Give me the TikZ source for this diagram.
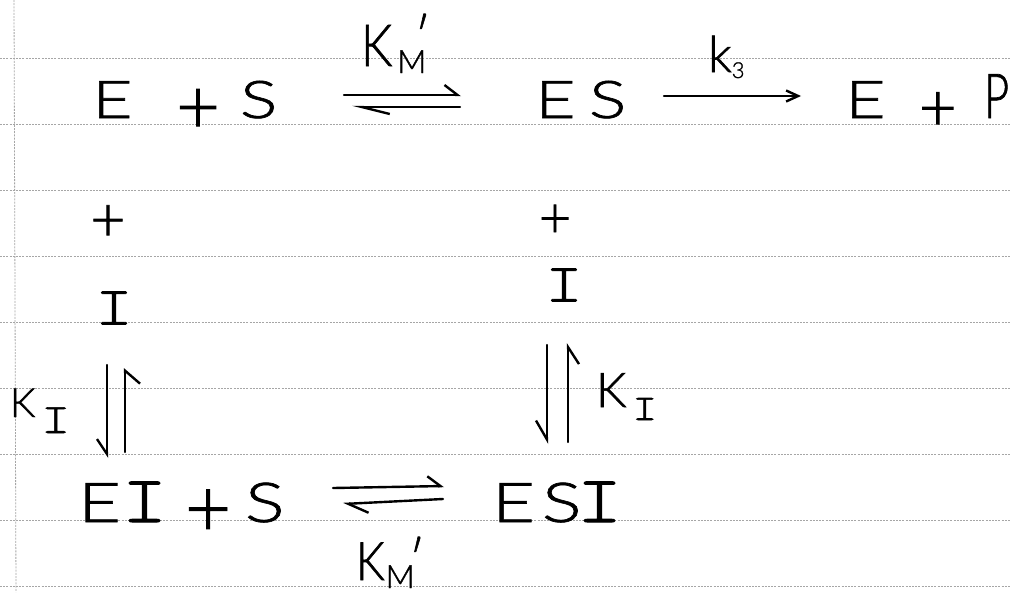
\documentclass[tikz,border=0pt]{standalone}
\usepackage{fontspec}
\usepackage{graphicx}
\usetikzlibrary{arrows.meta,calc}
\IfFontExistsTF{Lato Light}{%
  \setmainfont{Lato Light}[FakeStretch=1.35,FakeBold=1.2]%
  \newfontfamily\lfont{Lato Light}[FakeBold=1.2]%
}{%
  \setmainfont{Liberation Sans}[FakeStretch=1.15]%
  \newfontfamily\lfont{Liberation Sans}%
}
\newfontfamily\ifont{lmmonolt10-regular.otf}[FakeStretch=1.3,FakeBold=1.5]
\newcommand\bigI[1]{{\fontsize{#1}{#1}\ifont I}}
\newcommand\plusg[2]{\raisebox{#2}{\fontsize{#1}{#1}\lfont +}}
% K sub M prime: K size, kern, M raise, prime raise, prime kern
\newcommand\kmlabel[5]{\scalebox{0.85}[1]{\fontsize{#1}{#1}\lfont K}\kern#2\raisebox{#3}{\fontsize{32}{32}\lfont M}\llap{\raisebox{#4}{\fontsize{50}{50}\lfont ′}\kern#5}}
\begin{document}
\begin{tikzpicture}[x=1pt,y=-1pt,
  every node/.style={inner sep=0pt, outer sep=0pt},
  big/.style={font=\fontsize{52}{54}\selectfont, anchor=base west},
  bigb/.style={font=\fontsize{55}{57}\selectfont, anchor=base west},
  lab/.style={anchor=base west},
  rule/.style={draw=black!35, line width=0.8pt, dash pattern=on 2pt off 1.2pt},
  ink/.style={line width=2.4pt, line cap=round, line join=round},
  hr/.style 2 args={ink, -{Straight Barb[harpoon, length=#1, width=#2]}},
  hrs/.style 2 args={ink, -{Straight Barb[harpoon, swap, length=#1, width=#2]}},
  arr/.style={ink, -{Straight Barb[length=12pt, width=11pt]}}]
\useasboundingbox (0,0) rectangle (1011,592);
\fill[white] (0,0) rectangle (1011,592);
\foreach \y in {58,124,190,256,322,388,454,520,586} \draw[rule] (0,\y) -- (1011,\y);
\draw[rule] (14,0) -- (16,592);
% top row
\node[big] (ES1) at (92,118) {\makebox[84pt][l]{E}\makebox[64pt][l]{\plusg{76}{-15pt}}S};
\node[big] (ES) at (535,118) {\makebox[54pt][l]{E}S};
\node[big] (EP) at (845,118) {\makebox[74pt][l]{E}\makebox[65pt][l]{\plusg{65}{-12pt}}\scalebox{0.7}[1]{\fontsize{62}{62}\lfont P}};
\node[lab] (kmt) at (361,66) {\kmlabel{58}{5pt}{-7pt}{12pt}{-4pt}};
\node[lab] (k3) at (708,72) {{\fontsize{50}{50}\lfont k}\raisebox{-6pt}{\fontsize{22}{22}\lfont 3}};
\draw[hr={13pt}{20pt}] ($(ES1.base west)+(252,-23)$) -- ($(ES.base west)+(-74,-23)$);
\draw[hr={28pt}{14pt}] ($(ES.base west)+(-75,-11)$) -- ($(ES1.base west)+(260,-11)$);
\draw[arr] ($(ES.base west)+(129,-22)$) -- ($(EP.base west)+(-44,-22)$);
% middle
\node[font=\fontsize{61}{61}\lfont] (pl1) at (108,223) {+};
\node[font=\fontsize{56}{56}\lfont] (pl2) at (555,221) {+};
\node[font=\fontsize{54}{54}\ifont] (Il) at (114,308) {I};
\node[font=\fontsize{54}{54}\ifont] (Ir) at (564,285) {I};
% bottom row
\node[bigb] (EIS) at (78,522) {\makebox[44pt][l]{E}\makebox[63pt][l]{\bigI{66}}\makebox[60pt][l]{\plusg{80}{-14pt}}S};
\node[bigb] (ESI) at (492,522) {\makebox[50pt][l]{E}\makebox[35pt][l]{S}\bigI{66}};
\node[lab] (kmb) at (356,580) {\kmlabel{53}{1pt}{-8pt}{3pt}{-10pt}};
\node[lab] (kil) at (10,417) {{\fontsize{40}{40}\lfont K}\kern6pt\raisebox{-16pt}{\fontsize{42}{42}\ifont I}};
\node[lab] (kir) at (596,407) {{\fontsize{48}{48}\lfont K}\kern6pt\raisebox{-13pt}{\fontsize{36}{36}\ifont I}};
\draw[hrs={15pt}{20pt}] ($(Il.center)+(-7,57)$) -- ($(EIS.base west)+(29,-64)$);
\draw[hrs={13pt}{30pt}] ($(EIS.base west)+(47,-70)$) -- ($(Il.center)+(11,60)$);
\draw[hrs={19pt}{22pt}] ($(Ir.center)+(-17,60)$) -- ($(ESI.base west)+(55,-78)$);
\draw[hrs={17pt}{22pt}] ($(ESI.base west)+(76,-80)$) -- ($(Ir.center)+(4,58)$);
\draw[hr={13pt}{20pt}] ($(EIS.base west)+(255,-34)$) -- ($(ESI.base west)+(-48,-36)$);
\draw[hr={20pt}{20pt}] ($(ESI.base west)+(-49,-23)$) -- ($(EIS.base west)+(265,-18)$);
\end{tikzpicture}
\end{document}
